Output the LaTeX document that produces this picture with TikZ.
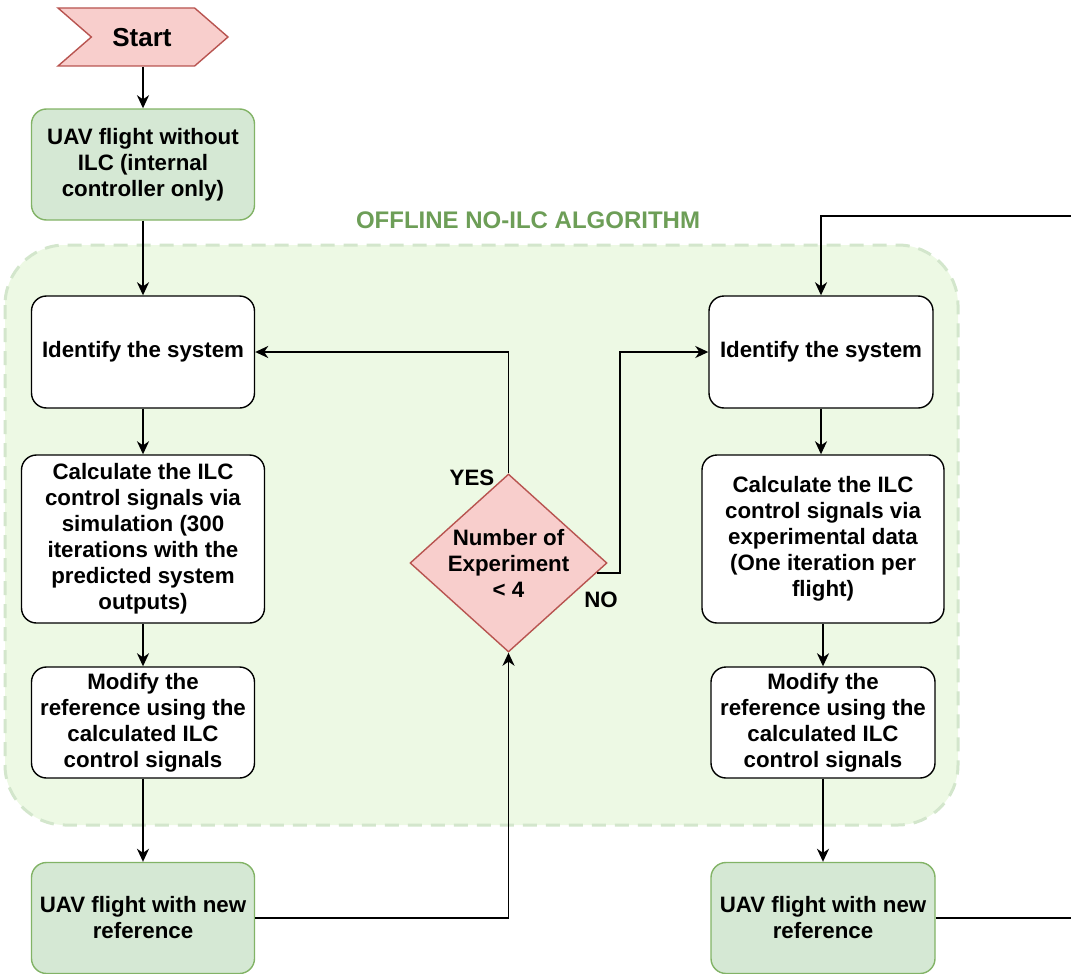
\documentclass[tikz,border=0pt]{standalone}
\usepackage{fontspec}
\setmainfont{Liberation Sans}
\usetikzlibrary{shapes.geometric,shapes.symbols,arrows.meta,calc}
\definecolor{gfill}{HTML}{D5E8D4}
\definecolor{gline}{HTML}{82B366}
\definecolor{pfill}{HTML}{F8CECC}
\definecolor{pline}{HTML}{B85450}
\definecolor{grpfill}{HTML}{EDF9E4}
\definecolor{grpline}{HTML}{D3E6CC}
\definecolor{ttl}{HTML}{6D9E57}
\tikzset{
  txt/.style={font=\fontsize{22.3}{26}\selectfont\bfseries, align=center},
  box/.style={txt, draw=black, line width=1.4pt, fill=white, rounded corners=15pt, inner sep=0pt},
  gbox/.style={box, fill=gfill, draw=gline},
  arr/.style={line width=1.8pt, -{Stealth[length=13pt,width=12pt,inset=4pt]}},
  ln/.style={line width=1.8pt},
}
\begin{document}
\begin{tikzpicture}[x=1pt,y=-1pt]
\useasboundingbox (0,0) rectangle (1071,974);
% group
\draw[grpline, fill=grpfill, line width=3pt, dash pattern=on 14pt off 9pt, rounded corners=60pt] (5,245) rectangle (958,825);
\node[font=\fontsize{24}{28}\selectfont\bfseries, text=ttl] (title) at (528,220) {OFFLINE NO-ILC ALGORITHM};
% start
\node[signal, signal to=east, signal from=west, signal pointer angle=82, fill=pfill, draw=pline, line width=1.4pt, minimum width=170pt, minimum height=58pt, inner sep=0pt] (start) at (143,37) {};
\node[font=\fontsize{26}{30}\selectfont\bfseries] (starttxt) at (142,38) {Start};
% left column
\node[gbox, minimum width=223pt, minimum height=111pt] (uav1) at (143,164.5) {UAV flight without\\ILC (internal\\controller only)};
\node[box, minimum width=223pt, minimum height=112pt] (id1) at (143,352) {Identify the system};
\node[box, minimum width=243pt, minimum height=168pt] (calc1) at (143,539) {Calculate the ILC\\control signals via\\simulation (300\\iterations with the\\predicted system\\outputs)};
\node[box, minimum width=223pt, minimum height=111pt] (mod1) at (143,722.5) {Modify the\\reference using the\\calculated ILC\\control signals};
\node[gbox, minimum width=223pt, minimum height=111pt] (uav2) at (143,918) {UAV flight with new\\reference};
% diamond
\node[diamond, fill=pfill, draw=pline, line width=1.4pt, minimum width=197pt, minimum height=178pt, inner sep=0pt] (dia) at (508.5,563) {};
\node[txt] (diatxt) at (508.5,563) {Number of\\Experiment\\< 4};
% right column
\node[box, minimum width=224pt, minimum height=112pt] (id2) at (821,352) {Identify the system};
\node[box, minimum width=242pt, minimum height=168pt] (calc2) at (823,539) {Calculate the ILC\\control signals via\\experimental data\\(One iteration per\\flight)};
\node[box, minimum width=224pt, minimum height=111pt] (mod2) at (823,722.5) {Modify the\\reference using the\\calculated ILC\\control signals};
\node[gbox, minimum width=224pt, minimum height=111pt] (uav3) at (823,918) {UAV flight with new\\reference};
% connectors
\draw[arr] (start.south) -- (uav1.north);
\draw[arr] (uav1.south) -- (id1.north);
\draw[arr] (id1.south) -- (calc1.north);
\draw[arr] (calc1.south) -- (mod1.north);
\draw[arr] (mod1.south) -- (uav2.north);
\draw[arr] (uav2.east) -| (dia.south);
\draw[arr] (dia.north) |- (id1.east);
\coordinate (noout) at ($(dia.east)+(-11,10)$);
\draw[arr] (noout) -- ++(23,0) |- (id2.west);
\coordinate (topr) at (1071,216);
\draw[arr] (topr) -| (id2.north);
\draw[arr] (id2.south) -- (id2.south |- calc2.north);
\draw[arr] (calc2.south) -- (mod2.north);
\draw[arr] (mod2.south) -- (uav3.north);
\coordinate (botr) at (1071,918);
\draw[ln] (uav3.east) -- (botr);
% labels
\node[txt] (yes) at (472,478) {YES};
\node[txt] (no) at (601,600) {NO};
\end{tikzpicture}
\end{document}
